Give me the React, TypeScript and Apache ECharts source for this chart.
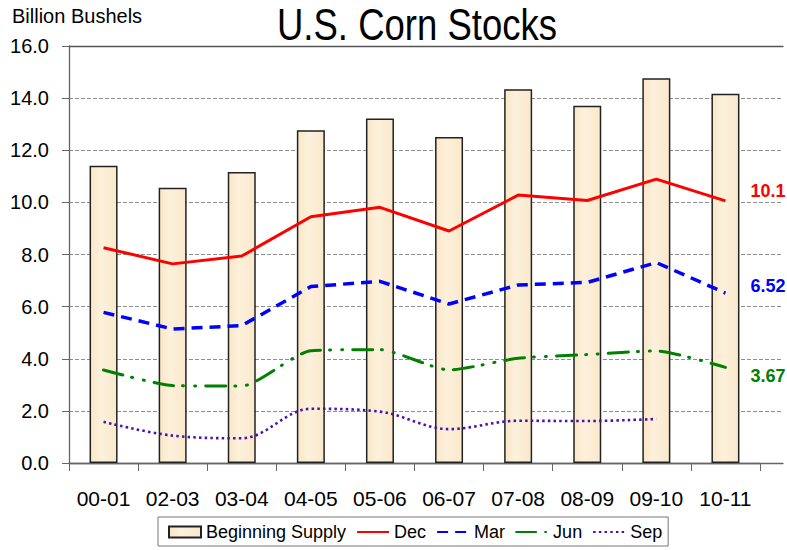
import React, { useEffect, useRef } from "react";
import * as echarts from "echarts";

const categories = ["00-01", "02-03", "03-04", "04-05", "05-06", "06-07", "07-08", "08-09", "09-10", "10-11"];
const beginningSupply = [11.41, 10.56, 11.17, 12.77, 13.22, 12.51, 14.34, 13.71, 14.76, 14.17];
const dec = [8.26, 7.64, 7.94, 9.45, 9.81, 8.9, 10.28, 10.07, 10.89, 10.06];
const mar = [5.78, 5.14, 5.27, 6.77, 6.97, 6.1, 6.83, 6.93, 7.69, 6.52];
const jun = [3.57, 2.97, 2.95, 4.31, 4.35, 3.57, 4.02, 4.16, 4.3, 3.67];
const sep = [1.58, 1.05, 0.95, 2.08, 1.97, 1.3, 1.62, 1.61, 1.69, null];
const endLabels = { dec: "10.1", mar: "6.52", jun: "3.67" };
const yTicks = { min: 0, max: 16, interval: 2 };

const FONT = "'Liberation Sans', Arial, sans-serif";

export default function App() {
  const ref = useRef<HTMLDivElement>(null);
  useEffect(() => {
    if (!ref.current) return;
    const chart = echarts.init(ref.current, null, { renderer: "svg" });
    const lineBase = { type: "line", xAxisIndex: 1, yAxisIndex: 1, symbol: "none", z: 5 };
    const hiddenSymbol = { opacity: 0 };
    chart.setOption({
      animation: false,
      backgroundColor: "#ffffff",
      textStyle: { fontFamily: FONT },
      graphic: [
        {
          type: "text",
          x: 417,
          y: 3,
          scaleX: 0.83,
          style: {
            text: "U.S. Corn Stocks",
            fontFamily: FONT,
            fontSize: 44,
            fill: "#000",
            textAlign: "center",
            textVerticalAlign: "top",
          },
        },
        {
          type: "text",
          x: 12,
          y: 6,
          style: {
            text: "Billion Bushels",
            fontFamily: FONT,
            fontSize: 20,
            fill: "#000",
            textAlign: "left",
            textVerticalAlign: "top",
          },
        },
      ],
      grid: [
        { left: 69, right: 4, top: 46, bottom: 87 },
        { left: 69, right: 27, top: 46, bottom: 87 },
      ],
      xAxis: [
        {
          gridIndex: 0,
          type: "value",
          min: 0,
          max: 1,
          position: "bottom",
          axisLine: { show: true, lineStyle: { color: "#666", width: 1.3 } },
          axisTick: { show: false },
          axisLabel: { show: false },
          splitLine: { show: false },
        },
        {
          gridIndex: 1,
          type: "category",
          data: categories,
          boundaryGap: true,
          axisLine: { show: true, lineStyle: { color: "#666", width: 1.3 } },
          axisTick: { show: true, interval: 0, length: 8, lineStyle: { color: "#666" } },
          axisLabel: { interval: 0, fontSize: 21, color: "#000", margin: 25, fontFamily: FONT },
        },
        {
          gridIndex: 0,
          type: "value",
          min: 0,
          max: 1,
          position: "top",
          axisLine: { show: true, lineStyle: { color: "#555", width: 1.3 } },
          axisTick: { show: false },
          axisLabel: { show: false },
          splitLine: { show: false },
        },
      ],
      yAxis: [
        {
          gridIndex: 0,
          type: "value",
          min: yTicks.min,
          max: yTicks.max,
          interval: yTicks.interval,
          axisLine: { show: true, lineStyle: { color: "#666", width: 1.3 } },
          axisTick: { show: true, length: 7, lineStyle: { color: "#666" } },
          axisLabel: {
            fontSize: 20,
            color: "#000",
            margin: 20,
            fontFamily: FONT,
            formatter: (v: number) => v.toFixed(1),
          },
          splitLine: { show: true, lineStyle: { color: "#8f8f8f", width: 1, type: [4, 2] } },
        },
        {
          gridIndex: 1,
          type: "value",
          min: yTicks.min,
          max: yTicks.max,
          interval: yTicks.interval,
          show: false,
          splitLine: { show: false },
        },
      ],
      legend: {
        left: 158,
        top: 517,
        itemWidth: 32,
        itemHeight: 11,
        itemGap: 10,
        padding: [6, 6, 5, 10],
        borderColor: "#777",
        borderWidth: 1,
        backgroundColor: "#fff",
        textStyle: { fontSize: 18, color: "#000", fontFamily: FONT },
        data: [
          { name: "Beginning Supply", icon: "rect" },
          { name: "Dec", itemStyle: hiddenSymbol },
          { name: "Mar", itemStyle: hiddenSymbol },
          { name: "Jun", itemStyle: hiddenSymbol },
          { name: "Sep", itemStyle: hiddenSymbol },
        ],
      },
      series: [
        {
          name: "Beginning Supply",
          type: "bar",
          xAxisIndex: 1,
          yAxisIndex: 1,
          data: beginningSupply,
          barWidth: 28,
          itemStyle: {
            color: new echarts.graphic.LinearGradient(0, 0, 1, 0, [
              { offset: 0, color: "#f9e6c6" },
              { offset: 0.4, color: "#fdf1dc" },
              { offset: 1, color: "#f9e8cb" },
            ]),
            borderColor: "#222",
            borderWidth: 1.5,
          },
          z: 2,
        },
        {
          ...lineBase,
          name: "Dec",
          data: dec,
          lineStyle: { color: "#ff0000", width: 3 },
          itemStyle: { color: "#ff0000" },
          endLabel: {
            show: true,
            formatter: endLabels.dec,
            distance: 25,
            offset: [0, -10],
            color: "#ff0000",
            fontWeight: "bold",
            fontSize: 18,
            fontFamily: FONT,
          },
        },
        {
          ...lineBase,
          name: "Mar",
          data: mar,
          lineStyle: { color: "#0000ff", width: 3.5, type: [11, 7] },
          itemStyle: { color: "#0000ff" },
          endLabel: {
            show: true,
            formatter: endLabels.mar,
            distance: 25,
            offset: [0, -7],
            color: "#0000ff",
            fontWeight: "bold",
            fontSize: 18,
            fontFamily: FONT,
          },
        },
        {
          ...lineBase,
          name: "Jun",
          data: jun,
          smooth: 0.2,
          lineStyle: { color: "#008000", width: 3, type: [20, 9, 1, 11, 1, 10], cap: "round" },
          itemStyle: { color: "#008000" },
          endLabel: {
            show: true,
            formatter: endLabels.jun,
            distance: 25,
            offset: [0, 9],
            color: "#008000",
            fontWeight: "bold",
            fontSize: 18,
            fontFamily: FONT,
          },
        },
        {
          ...lineBase,
          name: "Sep",
          data: sep,
          smooth: 0.35,
          lineStyle: { color: "#4b12a8", width: 2.6, type: [2.5, 3.2] },
          itemStyle: { color: "#4b12a8" },
        },
      ],
    });
    return () => chart.dispose();
  }, []);
  return (
    <div
      ref={ref}
      style={{ position: "fixed", left: 0, top: 0, width: 787, height: 550 }}
    />
  );
}
